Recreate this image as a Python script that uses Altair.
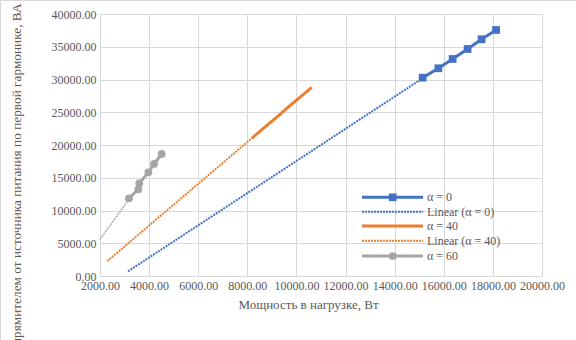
import altair as alt
import pandas as pd

# --- data ---
a0_x = [15140, 15780, 16360, 16970, 17540, 18130]
a0_y = [30280, 31710, 33130, 34660, 36140, 37560]
a40_x = [8180, 8700, 9200, 9700, 10200, 10620]
a40_y = [21020, 22700, 24260, 25900, 27450, 28810]
a60_x = [3180, 3560, 3600, 3970, 4200, 4510]
a60_y = [11860, 13240, 14150, 15830, 17100, 18630]

trend_extent_0 = [3140, 15140]
trend_extent_40 = [2300, 8180]
trend_extent_60 = [2000, 3180]

legend_labels = ["α = 0", "Linear (α = 0)", "α = 40", "Linear (α = 40)", "α = 60"]

BLUE = "#4472C4"
ORANGE = "#ED7D31"
GRAY = "#A5A5A5"
TXT = "#595959"
GRID = "#D9D9D9"
FONT = "Liberation Serif"

x_title = "Мощность в нагрузке, Вт"
y_title = "Полная мощность, потребляемая выпрямителем от источника питания по первой гармонике, ВА"

d0 = pd.DataFrame({"x": a0_x, "y": a0_y})
d40 = pd.DataFrame({"x": a40_x, "y": a40_y})
d60 = pd.DataFrame({"x": a60_x, "y": a60_y})

xs = alt.Scale(domain=[2000, 20000], nice=False)
ys = alt.Scale(domain=[0, 40000], nice=False)

xenc = alt.X("x:Q", scale=xs, axis=alt.Axis(
    values=list(range(2000, 20001, 2000)), format=".2f", title=x_title,
    grid=True, gridColor=GRID, domain=False, ticks=False,
    labelFont=FONT, labelFontSize=12, labelColor=TXT, labelPadding=4,
    titleFont=FONT, titleFontSize=13, titleColor=TXT, titleFontWeight="normal",
    titleX=208, titleY=32, titleBaseline="alphabetic", titleAlign="center",
    labelOverlap=False, labelFlush=False))
yenc = alt.Y("y:Q", scale=ys, axis=alt.Axis(
    values=list(range(0, 40001, 5000)), format=".2f", title=y_title,
    grid=True, gridColor=GRID, domain=False, ticks=False,
    labelFont=FONT, labelFontSize=12, labelColor=TXT, labelPadding=4,
    titleFont=FONT, titleFontSize=13.3, titleColor=TXT, titleFontWeight="normal",
    titleAngle=270, titleX=-77, titleY=-11, titleAlign="right", titleBaseline="bottom",
    labelOverlap=False))

layers = []

# trendlines
for d, ext, col, dash, w in [
    (d0, trend_extent_0, BLUE, [2, 1], 2),
    (d40, trend_extent_40, ORANGE, [2, 1], 2),
    (d60, trend_extent_60, GRAY, [2, 1], 1.5),
]:
    layers.append(alt.Chart(d).transform_regression("x", "y", extent=ext)
                  .mark_line(color=col, strokeDash=dash, strokeWidth=w)
                  .encode(x=xenc, y=yenc))

# series lines
layers.append(alt.Chart(d0).mark_line(color=BLUE, strokeWidth=3).encode(x=xenc, y=yenc))
layers.append(alt.Chart(d0).mark_point(shape="square", filled=True, opacity=1, color=BLUE, size=60)
              .encode(x=xenc, y=yenc))
layers.append(alt.Chart(d40).mark_line(color=ORANGE, strokeWidth=3).encode(x=xenc, y=yenc))
layers.append(alt.Chart(d60).mark_line(color=GRAY, strokeWidth=3).encode(x=xenc, y=yenc))
layers.append(alt.Chart(d60).mark_point(shape="circle", filled=True, opacity=1, color=GRAY, size=60)
              .encode(x=xenc, y=yenc))

# manual legend
leg_rows = [183.3, 197.7, 212, 226.7, 242]
leg_style = [(BLUE, None, 3, "square"), (BLUE, [2, 1], 2, None), (ORANGE, None, 3, None),
             (ORANGE, [2, 1], 2, None), (GRAY, None, 3, "circle")]
for lab, yy, (col, dash, w, shp) in zip(legend_labels, leg_rows, leg_style):
    ld = pd.DataFrame({"label": [lab]})
    kw = dict(color=col, strokeWidth=w)
    if dash:
        kw["strokeDash"] = dash
    layers.append(alt.Chart(ld).mark_rule(**kw).encode(
        x=alt.value(262), x2=alt.value(323), y=alt.value(yy)))
    if shp:
        layers.append(alt.Chart(ld).mark_point(shape=shp, filled=True, opacity=1, color=col, size=60)
                      .encode(x=alt.value(292.7), y=alt.value(yy)))
    layers.append(alt.Chart(ld).mark_text(align="left", baseline="middle", font=FONT,
                                          fontSize=12, color=TXT)
                  .encode(x=alt.value(327), y=alt.value(yy), text="label:N"))

# chart-area border (left and top)
bd = pd.DataFrame({"label": ["border"]})
layers.append(alt.Chart(bd).mark_rule(color=GRID, strokeWidth=1).encode(
    x=alt.value(-100), x2=alt.value(476), y=alt.value(-13.5)))
layers.append(alt.Chart(bd).mark_rule(color=GRID, strokeWidth=1).encode(
    x=alt.value(-99.5), y=alt.value(-14), y2=alt.value(326)))

chart = alt.layer(*layers).properties(
    width=442, height=262,
    autosize=alt.AutoSizeParams(type="none"),
    padding={"left": 100, "top": 14, "right": 34, "bottom": 64},
    background="white",
).configure_view(stroke=None)

chart.save("out.html", embed_options={"renderer": "svg", "actions": False})
